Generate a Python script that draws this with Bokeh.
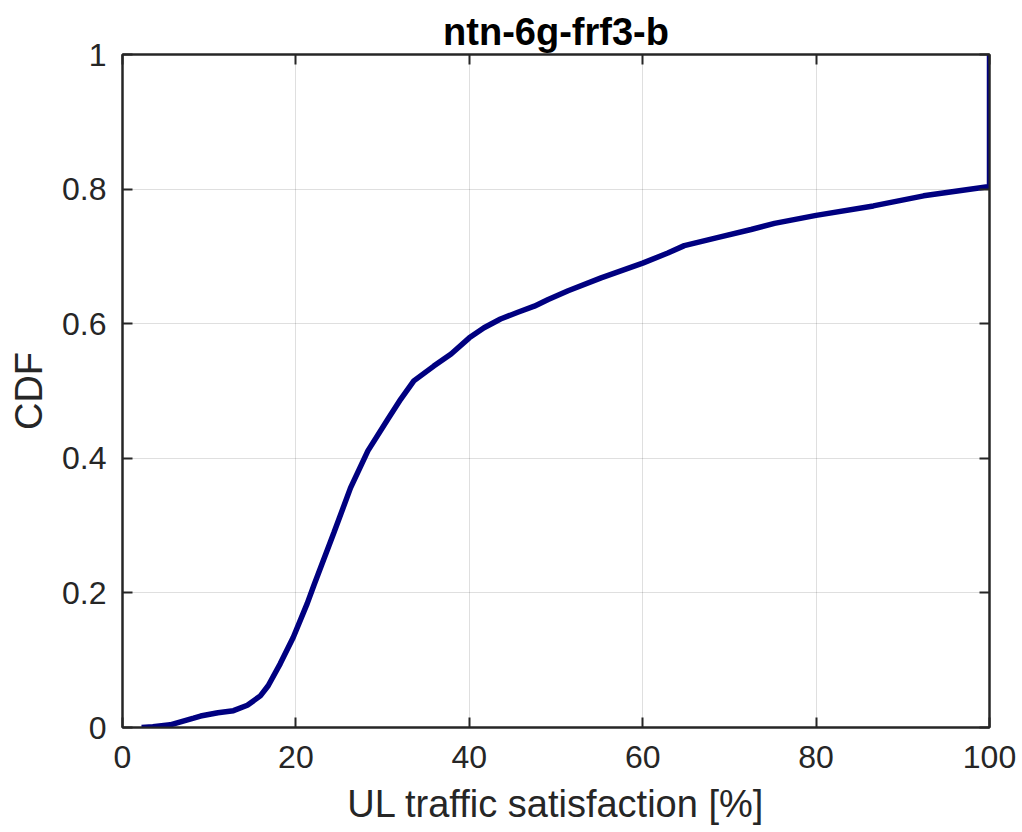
from bokeh.plotting import figure
from bokeh.models import Range1d, LinearAxis, FixedTicker, CustomLabelingPolicy
from bokeh.embed import file_html
from bokeh.resources import INLINE

# Empirical CDF of UL traffic satisfaction
satisfaction = [2.2, 3.5, 5.5, 8.2, 9.0, 11.0, 12.8, 14.4, 15.9, 16.8, 18.2, 19.7,
                21.3, 22.1, 22.8, 24.4, 26.3, 28.3, 30.6, 32.1, 33.6, 35.9, 37.9,
                40.0, 41.7, 43.6, 45.6, 47.5, 49.1, 51.4, 55.2, 60.0, 62.9, 64.8,
                68.6, 72.5, 75.2, 80.0, 86.6, 92.4, 100.0, 100.0]
cdf = [0.0, 0.001, 0.004, 0.014, 0.017, 0.022, 0.025, 0.033, 0.047, 0.062, 0.095,
       0.134, 0.184, 0.212, 0.236, 0.290, 0.356, 0.411, 0.458, 0.488, 0.515, 0.537,
       0.555, 0.579, 0.594, 0.607, 0.617, 0.626, 0.636, 0.649, 0.668, 0.690, 0.705,
       0.716, 0.728, 0.740, 0.749, 0.761, 0.775, 0.790, 0.804, 1.0]

x_ticks = [0, 20, 40, 60, 80, 100]
y_ticks = [0, 0.2, 0.4, 0.6, 0.8, 1]
y_tick_labels = {0: "0", 0.2: "0.2", 0.4: "0.4", 0.6: "0.6", 0.8: "0.8", 1: "1"}

FONT = "Liberation Sans"
DARK = "#262626"

p = figure(width=1022, height=832, output_backend="svg", toolbar_location=None,
           x_range=Range1d(0, 100), y_range=Range1d(0, 1),
           title="ntn-6g-frf3-b",
           min_border_left=122, min_border_right=33, min_border_top=54,
           min_border_bottom=105)

p.title.align = "center"
p.title.text_font = FONT
p.title.text_font_size = "38px"
p.title.text_font_style = "bold"
p.title.text_color = "#000000"
p.title.standoff = 4

p.line(satisfaction, cdf, line_color="#000080", line_width=5.5)

for ax, ticks in ((p.xaxis[0], x_ticks), (p.yaxis[0], y_ticks)):
    ax.ticker = FixedTicker(ticks=ticks)
    ax.major_tick_in = 10
    ax.major_tick_out = 0
    ax.minor_tick_line_color = None
    ax.axis_line_color = DARK
    ax.axis_line_width = 2
    ax.major_tick_line_color = DARK
    ax.major_tick_line_width = 2
    ax.major_label_text_font = FONT
    ax.major_label_text_font_size = "32px"
    ax.major_label_text_color = DARK
    ax.axis_label_text_font = FONT
    ax.axis_label_text_font_size = "38px"
    ax.axis_label_text_font_style = "normal"
    ax.axis_label_text_color = DARK

p.xaxis[0].axis_label = "UL traffic satisfaction [%]"
p.yaxis[0].axis_label = "CDF"
p.yaxis[0].major_label_overrides = y_tick_labels
p.xaxis[0].major_label_standoff = 18
p.yaxis[0].major_label_standoff = 16
p.xaxis[0].axis_label_standoff = 12
p.yaxis[0].axis_label_standoff = 9

# box ticks on the top and right edges, without labels
hide_labels = CustomLabelingPolicy(code="""
for (const i of indices) indices.unset(i)
return indices
""")
for side, ticks in (("above", x_ticks), ("right", y_ticks)):
    ax = LinearAxis(ticker=FixedTicker(ticks=ticks))
    ax.major_tick_in = 10
    ax.major_tick_out = 0
    ax.minor_tick_line_color = None
    ax.axis_line_color = DARK
    ax.axis_line_width = 2
    ax.major_tick_line_color = DARK
    ax.major_tick_line_width = 2
    ax.major_label_policy = hide_labels
    ax.major_label_text_font_size = "0px"
    ax.major_label_standoff = 0
    p.add_layout(ax, side)

p.xgrid.ticker = FixedTicker(ticks=x_ticks)
p.ygrid.ticker = FixedTicker(ticks=y_ticks)
p.grid.grid_line_color = DARK
p.grid.grid_line_alpha = 0.15
p.grid.grid_line_width = 1

p.outline_line_color = DARK
p.outline_line_width = 2
p.background_fill_color = "white"
p.border_fill_color = "white"

open("out.html", "w").write(file_html(p, INLINE))
